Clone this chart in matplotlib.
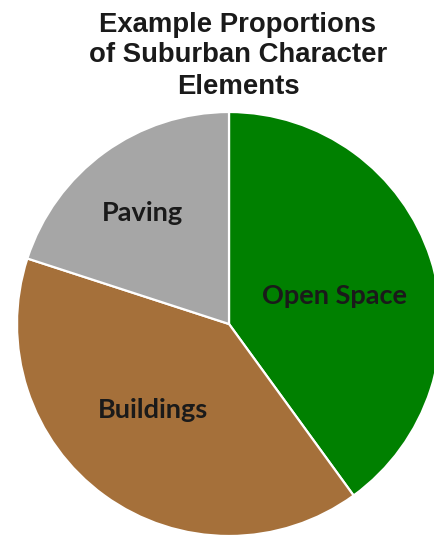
import numpy as np
import matplotlib
matplotlib.use("Agg")
import matplotlib.pyplot as plt

# Share of each element in a typical suburban block
elements = ["Open Space", "Buildings", "Paving"]
shares = [40, 40, 20]
colors = ["#008000", "#A5703A", "#A6A6A6"]

# Label placement: fraction of radius out, and clockwise nudge (deg) off the bisector
label_radius = [0.517, 0.540, 0.665]
label_nudge = [3.2, 5.3, -2.1]

title = "Example Proportions\nof Suburban Character\nElements"

W, H = 435, 538
fig = plt.figure(figsize=(W / 100, H / 100), dpi=100)
ax = fig.add_axes([0, 0, 1, 1])

wedges, _ = ax.pie(
    shares,
    colors=colors,
    startangle=90,
    counterclock=False,
    radius=1.0,
    wedgeprops=dict(edgecolor="white", linewidth=1.6),
)

# Category labels sit roughly along each wedge's bisector
for w, name, d, nudge in zip(wedges, elements, label_radius, label_nudge):
    mid = np.deg2rad((w.theta1 + w.theta2) / 2 - nudge)
    ax.text(d * np.cos(mid), d * np.sin(mid), name,
            ha="center", va="center", fontsize=19.5,
            fontfamily="Lato", fontweight="bold", color="#1a1a1a")

# Pixel layout: pie centre at (229, 324) from top-left, radius 212 px
cx, cy, r = 229, 324, 212
ax.set_xlim(-cx / r, (W - cx) / r)
ax.set_ylim(-(H - cy) / r, cy / r)
ax.set_aspect("auto")
ax.axis("off")

ax.text((238 - cx) / r, (cy - 11.5) / r, title,
        ha="center", va="top", fontsize=19.8, linespacing=1.25,
        fontfamily="Liberation Sans", fontweight="bold", color="#1a1a1a")

fig.savefig("out.png", dpi=100)
